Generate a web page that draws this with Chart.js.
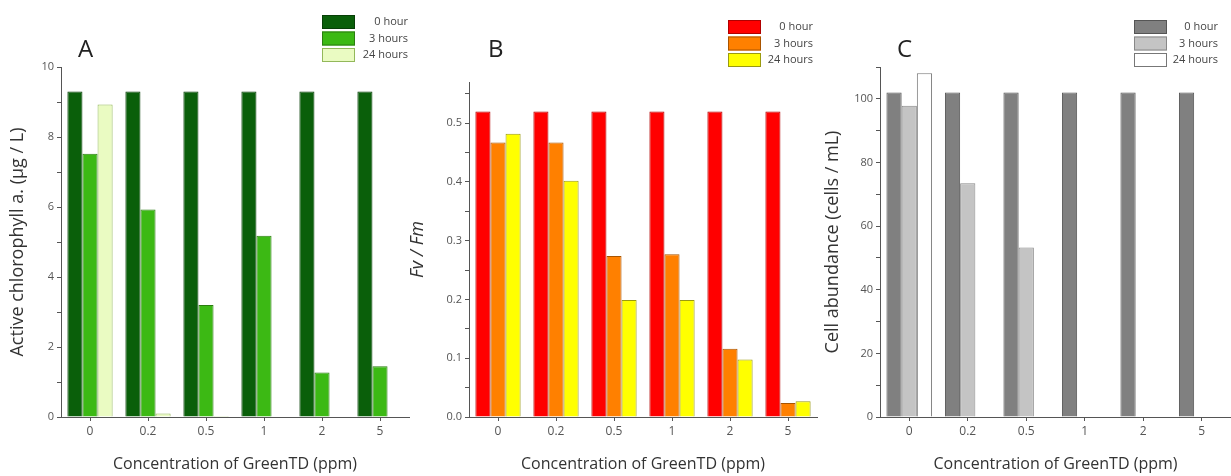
<!DOCTYPE html>
<html>
<head>
<meta charset="utf-8">
<script src="https://cdn.jsdelivr.net/npm/chart.js@4.4.1/dist/chart.umd.min.js"></script>
<style>
  body { margin: 0; background: #fff; }
  .panel { position: absolute; top: 0; height: 476px; }
</style>
</head>
<body>
<div class="panel" style="left:0;width:415px"><canvas id="chartA"></canvas></div>
<div class="panel" style="left:400px;width:422px"><canvas id="chartB"></canvas></div>
<div class="panel" style="left:810px;width:421px"><canvas id="chartC"></canvas></div>
<script>
const concentrations = ['0', '0.2', '0.5', '1', '2', '5']
const seriesNames = ['0 hour', '3 hours', '24 hours']

// active chlorophyll a (ug/L)
const chl0h = [9.3, 9.3, 9.3, 9.3, 9.3, 9.3]
const chl3h = [7.52, 5.93, 3.2, 5.18, 1.27, 1.45]
const chl24h = [8.93, 0.1, 0.03, 0, 0, 0]
const chlTicks = [0, 2, 4, 6, 8, 10]

// Fv/Fm
const fvfm0h = [0.52, 0.52, 0.52, 0.52, 0.52, 0.52]
const fvfm3h = [0.467, 0.467, 0.274, 0.277, 0.116, 0.024]
const fvfm24h = [0.482, 0.402, 0.199, 0.199, 0.098, 0.027]
const fvfmTicks = [0, 0.1, 0.2, 0.3, 0.4, 0.5]

// cell abundance (cells/mL)
const cells0h = [102, 102, 102, 102, 102, 102]
const cells3h = [97.8, 73.5, 53.3, 0, 0, 0]
const cells24h = [108, 0, 0, 0, 0, 0]
const cellTicks = [0, 20, 40, 60, 80, 100]

const FONT = '"Open Sans", "DejaVu Sans", sans-serif'
const AXIS = '#555'

// panel letter + boxed legend in the top right corner
const panelDecor = {
  id: 'panelDecor',
  afterDraw(chart, args, o) {
    const ctx = chart.ctx
    ctx.save()
    ctx.fillStyle = '#222'
    ctx.font = '24px ' + FONT
    ctx.textBaseline = 'alphabetic'
    ctx.fillText(o.letter, o.letterX, o.letterY)
    ctx.font = '11px ' + FONT
    ctx.textAlign = 'right'
    ctx.textBaseline = 'middle'
    chart.data.datasets.forEach((ds, i) => {
      const y = o.legendY + i * 16.5
      ctx.fillStyle = ds.backgroundColor
      ctx.fillRect(o.legendX, y, 33, 14)
      ctx.strokeStyle = ds.borderColor
      ctx.lineWidth = 1
      ctx.strokeRect(o.legendX + 0.5, y + 0.5, 32, 13)
      ctx.fillStyle = '#444'
      ctx.fillText(ds.label, o.textRight, y + 7)
    })
    ctx.restore()
  }
}

function makePanel(id, p) {
  const ctx = document.getElementById(id).getContext('2d')
  return new Chart(ctx, {
    type: 'bar',
    data: {
      labels: concentrations,
      datasets: p.series.map((vals, i) => ({
        label: seriesNames[i],
        data: vals,
        backgroundColor: p.fills[i],
        borderColor: p.borders[i],
        borderWidth: 1,
        barPercentage: 1,
        categoryPercentage: 0.78
      }))
    },
    options: {
      responsive: true,
      maintainAspectRatio: false,
      animation: false,
      layout: { padding: { top: p.top, right: p.right, left: 0, bottom: 0 } },
      plugins: {
        legend: { display: false },
        tooltip: { enabled: false },
        panelDecor: p.decor
      },
      scales: {
        x: {
          afterFit: s => { s.height = 59 },
          grid: { offset: false, drawOnChartArea: false, tickLength: 4, color: AXIS },
          border: { color: AXIS, width: 1 },
          ticks: { color: '#555', font: { family: FONT, size: 12 }, padding: 3 },
          title: {
            display: true,
            text: 'Concentration of GreenTD (ppm)',
            color: '#333',
            font: { family: FONT, size: 16 },
            padding: { top: 0, bottom: 2 }
          }
        },
        y: {
          min: 0,
          max: p.max,
          afterFit: s => { s.width = p.axisWidth },
          afterBuildTicks: s => {
            s.ticks = s.ticks.filter(t => t.value <= p.max + 1e-9)
          },
          grid: { drawOnChartArea: false, tickLength: 4, color: AXIS },
          border: { color: AXIS, width: 1 },
          ticks: {
            stepSize: p.step,
            includeBounds: false,
            color: '#555',
            font: { family: FONT, size: 11 },
            padding: 3,
            callback: v => p.ticks.some(t => Math.abs(t - v) < 1e-6) ? p.fmt(v) : ''
          },
          title: {
            display: true,
            text: p.yTitle,
            color: '#333',
            font: { family: FONT, size: 18, style: p.yStyle || 'normal' },
            padding: { top: p.titlePad, bottom: 0 }
          }
        }
      }
    },
    plugins: [panelDecor]
  })
}

makePanel('chartA', {
  series: [chl0h, chl3h, chl24h],
  fills: ['#0a5f0a', '#3cb914', '#eafbc2'],
  borders: ['#073f07', '#2b7d10', '#93b85a'],
  max: 10, step: 1, ticks: chlTicks, fmt: v => String(v),
  top: 67, right: 6, axisWidth: 61, titlePad: 7,
  yTitle: 'Active chlorophyll a. (\u00b5g / L)',
  decor: { letter: 'A', letterX: 78, letterY: 57, legendX: 322, legendY: 15, textRight: 408 }
})

makePanel('chartB', {
  series: [fvfm0h, fvfm3h, fvfm24h],
  fills: ['#ff0000', '#ff8000', '#ffff00'],
  borders: ['#b00000', '#a85400', '#9a9a10'],
  max: 0.57, step: 0.05, ticks: fvfmTicks, fmt: v => v.toFixed(1),
  top: 82, right: 5, axisWidth: 69, titlePad: 7,
  yTitle: 'Fv / Fm', yStyle: 'italic',
  decor: { letter: 'B', letterX: 88, letterY: 57, legendX: 328, legendY: 20, textRight: 413 }
})

makePanel('chartC', {
  series: [cells0h, cells3h, cells24h],
  fills: ['#808080', '#c4c4c4', '#ffffff'],
  borders: ['#555555', '#888888', '#777777'],
  max: 110, step: 10, ticks: cellTicks, fmt: v => String(v),
  top: 67, right: 0, axisWidth: 70, titlePad: 12,
  yTitle: 'Cell abundance (cells / mL)',
  decor: { letter: 'C', letterX: 87, letterY: 57, legendX: 324, legendY: 20, textRight: 408 }
})
</script>
</body>
</html>
